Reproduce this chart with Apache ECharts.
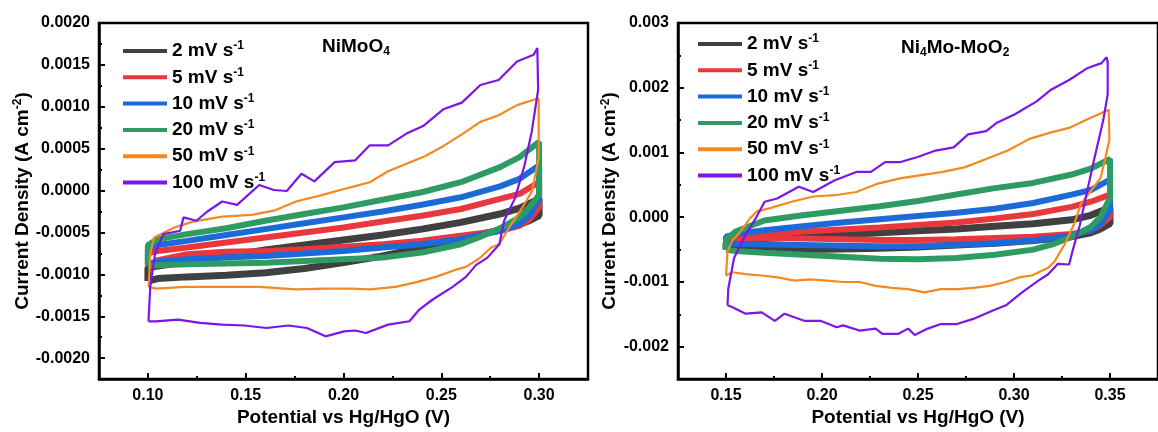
<!DOCTYPE html>
<html><head><meta charset="utf-8">
<script src="https://cdn.jsdelivr.net/npm/echarts@6/dist/echarts.min.js"></script>
<style>html,body{margin:0;padding:0;background:#fff}#c{width:1158px;height:432px}</style>
</head><body><div id="c"></div>
<script>
// ---------- labels & ticks ----------
const rateNames = ['2 mV s-1', '5 mV s-1', '10 mV s-1', '20 mV s-1', '50 mV s-1', '100 mV s-1'];
const leftTitle = ['NiMoO', '4'];
const rightTitle = ['Ni', '4', 'Mo-MoO', '2'];
const xTitle = 'Potential vs Hg/HgO (V)';
const yTitle = ['Current Density (A cm', '-2', ')'];
const leftXTicks = [0.10, 0.15, 0.20, 0.25, 0.30];
const leftXMinor = [0.125, 0.175, 0.225, 0.275];
const leftYTicks = [-0.0020, -0.0015, -0.0010, -0.0005, 0, 0.0005, 0.0010, 0.0015, 0.0020];
const leftYMinor = [-0.00175, -0.00125, -0.00075, -0.00025, 0.00025, 0.00075, 0.00125, 0.00175];
const rightXTicks = [0.15, 0.20, 0.25, 0.30, 0.35];
const rightXMinor = [0.175, 0.225, 0.275, 0.325];
const rightYTicks = [-0.002, -0.001, 0, 0.001, 0.002, 0.003];
const rightYMinor = [-0.0015, -0.0005, 0.0005, 0.0015, 0.0025];

// ---------- NiMoO4 loops [potential V, current A cm-2] ----------
const L2 = [[0.1,-0.00108],[0.1,-0.00092],[0.105,-0.0009],[0.12,-0.00085],[0.14,-0.00078],[0.16,-0.00071],[0.18,-0.00065],[0.2,-0.00059],[0.22,-0.00053],[0.24,-0.00046],[0.26,-0.00038],[0.28,-0.00028],[0.29,-0.00021],[0.3,-0.0001],
  [0.3,-0.0003],[0.295,-0.00036],[0.29,-0.0004],[0.28,-0.00047],[0.26,-0.00058],[0.24,-0.00068],[0.22,-0.00078],[0.2,-0.00086],[0.18,-0.00093],[0.16,-0.00098],[0.14,-0.00101],[0.12,-0.00103],[0.105,-0.00105],[0.1,-0.00108]];
const L5 = [[0.1,-0.0009],[0.1,-0.00075],[0.105,-0.00072],[0.12,-0.00068],[0.14,-0.00062],[0.16,-0.00056],[0.18,-0.0005],[0.2,-0.00044],[0.22,-0.00037],[0.24,-0.0003],[0.26,-0.00022],[0.28,-0.0001],[0.29,-0.00004],[0.3,0.0001],
  [0.3,-0.0002],[0.295,-0.00035],[0.29,-0.00042],[0.28,-0.00048],[0.26,-0.00054],[0.24,-0.0006],[0.22,-0.00064],[0.2,-0.00067],[0.18,-0.0007],[0.16,-0.00072],[0.14,-0.00073],[0.12,-0.00076],[0.105,-0.00083],[0.1,-0.0009]];
const L10 = [[0.1,-0.00088],[0.1,-0.0007],[0.105,-0.00065],[0.12,-0.0006],[0.14,-0.00053],[0.16,-0.00046],[0.18,-0.00039],[0.2,-0.00032],[0.22,-0.00025],[0.24,-0.00017],[0.26,-0.00008],[0.28,0.00005],[0.29,0.00014],[0.3,0.0003],
  [0.3,-0.0001],[0.295,-0.0003],[0.29,-0.0004],[0.28,-0.00048],[0.26,-0.00058],[0.24,-0.00064],[0.22,-0.00068],[0.2,-0.00072],[0.18,-0.00075],[0.16,-0.00078],[0.14,-0.0008],[0.12,-0.00082],[0.105,-0.00085],[0.1,-0.00088]];
const L20 = [[0.1,-0.0009],[0.1,-0.00065],[0.105,-0.00058],[0.12,-0.00052],[0.14,-0.00045],[0.16,-0.00036],[0.18,-0.00028],[0.2,-0.0002],[0.22,-0.00011],[0.24,-0.00002],[0.26,0.0001],[0.28,0.00028],[0.29,0.0004],[0.3,0.00058],
  [0.3,-0.00005],[0.295,-0.0002],[0.29,-0.00032],[0.28,-0.00045],[0.27,-0.00055],[0.26,-0.00064],[0.24,-0.00074],[0.22,-0.0008],[0.2,-0.00082],[0.18,-0.00084],[0.16,-0.00086],[0.14,-0.00087],[0.12,-0.00088],[0.105,-0.00089],[0.1,-0.0009]];
const L50 = [[0.1004,-0.00115],[0.1012,-0.00075],[0.1032,-0.00056],[0.1135,-0.00044],[0.123,-0.00037],[0.138,-0.00031],[0.1531,-0.00029],[0.1644,-0.00024],[0.1757,-0.00013],[0.1889,-0.000055],[0.2021,0.00003],[0.2134,0.0001],[0.2228,0.00023],[0.2322,0.00032],[0.2416,0.00041],[0.251,0.00053],[0.2605,0.00067],[0.27,0.00082],[0.2793,0.0009],[0.2887,0.00102],[0.2981,0.00109],[0.2998,0.0011],
  [0.2998,0.0004],[0.2965,0.0],[0.2923,-0.00017],[0.2881,-0.00032],[0.2847,-0.00044],[0.2796,-0.00064],[0.2755,-0.00068],[0.2694,-0.00081],[0.2626,-0.00091],[0.2567,-0.00095],[0.2472,-0.00103],[0.2378,-0.00109],[0.2266,-0.00115],[0.2134,-0.00118],[0.204,-0.00117],[0.1908,-0.00117],[0.1757,-0.00118],[0.1569,-0.00115],[0.138,-0.00115],[0.1192,-0.00115],[0.1041,-0.00117],[0.1004,-0.00115]];
const L100 = [[0.1003,-0.00156],[0.1012,-0.00115],[0.1037,-0.00075],[0.1079,-0.00052],[0.1165,-0.00048],[0.1182,-0.00032],[0.1248,-0.00036],[0.1304,-0.00025],[0.138,-0.00013],[0.1456,-0.00017],[0.1569,0.000066],[0.1644,0.000007],[0.171,-0.000005],[0.1785,0.0002],[0.1851,0.00011],[0.1955,0.00034],[0.2059,0.00036],[0.2134,0.00054],[0.2228,0.00054],[0.2322,0.00068],[0.2407,0.00077],[0.251,0.00097],[0.2605,0.00105],[0.27,0.00126],[0.2793,0.00132],[0.2887,0.00154],[0.2972,0.00162],[0.2991,0.0017],
  [0.2995,0.0012],[0.2962,0.0007],[0.2925,0.0003],[0.2877,-0.00009],[0.2821,-0.00036],[0.2797,-0.00064],[0.2736,-0.0008],[0.2677,-0.00089],[0.2626,-0.00103],[0.2558,-0.00115],[0.2456,-0.0013],[0.2388,-0.00142],[0.2337,-0.00156],[0.2228,-0.0016],[0.2115,-0.0017],[0.2059,-0.00167],[0.2003,-0.00168],[0.1908,-0.00174],[0.1813,-0.00164],[0.1719,-0.00161],[0.1606,-0.00164],[0.1493,-0.00161],[0.138,-0.0016],[0.1267,-0.00158],[0.1154,-0.00154],[0.1041,-0.00156],[0.1003,-0.00156]];

// ---------- Ni4Mo-MoO2 loops ----------
const R2 = [[0.15,-0.0005],[0.15,-0.0004],[0.155,-0.00036],[0.17,-0.00033],[0.19,-0.0003],[0.21,-0.00027],[0.23,-0.00024],[0.25,-0.00021],[0.27,-0.00018],[0.29,-0.00014],[0.31,-0.0001],[0.33,-0.00004],[0.34,0.00003],[0.35,0.00015],
  [0.35,-0.0001],[0.345,-0.00018],[0.34,-0.00024],[0.33,-0.0003],[0.31,-0.00036],[0.29,-0.0004],[0.27,-0.00043],[0.25,-0.00046],[0.23,-0.00048],[0.21,-0.00049],[0.19,-0.0005],[0.17,-0.0005],[0.155,-0.0005],[0.15,-0.0005]];
const R5 = [[0.15,-0.00033],[0.155,-0.0003],[0.17,-0.00026],[0.19,-0.00022],[0.21,-0.00019],[0.23,-0.00016],[0.25,-0.00012],[0.27,-0.00008],[0.29,-0.00002],[0.31,0.00005],[0.33,0.00016],[0.34,0.00024],[0.35,0.00035],
  [0.35,0.0],[0.345,-0.00012],[0.34,-0.0002],[0.33,-0.00026],[0.31,-0.0003],[0.29,-0.00032],[0.27,-0.00034],[0.25,-0.00035],[0.23,-0.00035],[0.21,-0.00034],[0.19,-0.00033],[0.17,-0.00032],[0.155,-0.00032],[0.15,-0.00033]];
const R10 = [[0.15,-0.0004],[0.15,-0.0003],[0.155,-0.00026],[0.17,-0.0002],[0.19,-0.00014],[0.21,-0.00008],[0.23,-0.00003],[0.25,0.00002],[0.27,0.00007],[0.29,0.00013],[0.31,0.00022],[0.33,0.00035],[0.34,0.00042],[0.35,0.00058],
  [0.35,0.0001],[0.345,-0.0001],[0.34,-0.0002],[0.33,-0.00028],[0.31,-0.00036],[0.29,-0.0004],[0.27,-0.00043],[0.25,-0.00045],[0.23,-0.00045],[0.21,-0.00044],[0.19,-0.00043],[0.17,-0.00042],[0.155,-0.00041],[0.15,-0.0004]];
const R20 = [[0.15,-0.0005],[0.15,-0.00035],[0.155,-0.00022],[0.17,-0.00005],[0.19,0.00003],[0.21,0.0001],[0.23,0.00017],[0.25,0.00025],[0.27,0.00035],[0.29,0.00045],[0.31,0.00053],[0.33,0.00066],[0.34,0.00075],[0.35,0.0009],
  [0.35,0.0003],[0.345,0.0],[0.34,-0.00015],[0.33,-0.0003],[0.32,-0.00042],[0.31,-0.0005],[0.29,-0.00058],[0.27,-0.00063],[0.25,-0.00065],[0.23,-0.00064],[0.21,-0.00061],[0.19,-0.00058],[0.17,-0.00055],[0.155,-0.00052],[0.15,-0.0005]];
const R50 = [[0.15,-0.0009],[0.1508,-0.00053],[0.1534,-0.00035],[0.1568,-0.00025],[0.1627,-0.00001],[0.1661,0.00009],[0.1729,0.00014],[0.1842,0.00024],[0.1955,0.00032],[0.2067,0.00034],[0.2179,0.00039],[0.2292,0.00052],[0.2405,0.0006],[0.2517,0.00065],[0.2629,0.0007],[0.2742,0.00077],[0.2855,0.0009],[0.2968,0.00103],[0.308,0.00121],[0.3193,0.00131],[0.3287,0.00138],[0.338,0.00151],[0.3456,0.00161],[0.3493,0.00166],
  [0.3497,0.0012],[0.3475,0.0009],[0.345,0.0006],[0.3348,0.0002],[0.3314,-0.0001],[0.3263,-0.00042],[0.3212,-0.00068],[0.3178,-0.00078],[0.3093,-0.0009],[0.3026,-0.00093],[0.2958,-0.001],[0.2873,-0.00106],[0.2788,-0.00109],[0.2703,-0.00111],[0.2619,-0.00111],[0.2534,-0.00116],[0.2449,-0.00111],[0.2364,-0.00109],[0.228,-0.00106],[0.2195,-0.001],[0.211,-0.001],[0.2025,-0.00098],[0.1941,-0.00096],[0.1856,-0.00098],[0.1771,-0.00093],[0.1686,-0.0009],[0.1602,-0.00088],[0.1534,-0.00085],[0.15,-0.0009]];
const R100 = [[0.1508,-0.00136],[0.1512,-0.0011],[0.1542,-0.00063],[0.1602,-0.00027],[0.166,0.00001],[0.1701,0.00024],[0.1766,0.00029],[0.1879,0.00047],[0.1954,0.00039],[0.2067,0.00057],[0.2179,0.0007],[0.2255,0.0007],[0.2329,0.00085],[0.2405,0.00085],[0.2498,0.00093],[0.2592,0.00103],[0.2686,0.00108],[0.2761,0.00128],[0.2855,0.00133],[0.2911,0.00146],[0.3005,0.00159],[0.3118,0.00179],[0.3193,0.00197],[0.3287,0.00212],[0.338,0.0023],[0.3456,0.00238],[0.3482,0.00247],[0.3488,0.0024],
  [0.3488,0.0019],[0.3465,0.0015],[0.3418,0.0009],[0.338,0.00039],[0.3343,-0.00012],[0.3305,-0.00052],[0.3287,-0.00073],[0.3229,-0.00072],[0.3178,-0.00088],[0.3127,-0.00098],[0.3042,-0.00116],[0.2958,-0.00136],[0.289,-0.00144],[0.2788,-0.00157],[0.2703,-0.00165],[0.2619,-0.00165],[0.2551,-0.00172],[0.2483,-0.00182],[0.2449,-0.00172],[0.2398,-0.0018],[0.2314,-0.0018],[0.228,-0.00172],[0.2195,-0.00175],[0.211,-0.00167],[0.2076,-0.0017],[0.1992,-0.0016],[0.1907,-0.0016],[0.1805,-0.00149],[0.1754,-0.0016],[0.1686,-0.00147],[0.1602,-0.00149],[0.1534,-0.00139],[0.1508,-0.00136]];

const leftLoops = [L2, L5, L10, L20, L50, L100];
const rightLoops = [R2, R5, R10, R20, R50, R100];

// ---------- styling ----------
const colors = ['#404040', '#e8383d', '#1c6ad8', '#2e9c62', '#f5891f', '#7a16e8'];
const widths = [7, 6, 6, 6, 2.2, 2.2];
const FONT = '"Liberation Sans", Arial, sans-serif';
const rich = {
  n: { fontSize: 19, fontWeight: 'bold', fontFamily: FONT, color: '#000', lineHeight: 22 },
  sup: { fontSize: 12, fontWeight: 'bold', fontFamily: FONT, color: '#000', lineHeight: 12, verticalAlign: 'top' },
  sub: { fontSize: 12, fontWeight: 'bold', fontFamily: FONT, color: '#000', lineHeight: 12, verticalAlign: 'bottom' }
};

function mainX(g, min, max, ticks, digits) {
  return { type: 'value', gridIndex: g, min, max, position: 'bottom',
    axisLine: { show: true, onZero: false, lineStyle: { color: '#000', width: 2.5 } },
    axisTick: { show: true, inside: true, length: 6, customValues: ticks, lineStyle: { color: '#000', width: 2 } },
    axisLabel: { show: true, customValues: ticks, formatter: v => v.toFixed(digits), color: '#000', fontSize: 16, fontWeight: 'bold', fontFamily: FONT, margin: 8 },
    splitLine: { show: false },
    name: xTitle, nameLocation: 'middle', nameGap: 27,
    nameTextStyle: { fontSize: 19, fontWeight: 'bold', fontFamily: FONT, color: '#000' } };
}
function minorX(g, min, max, ticks) {
  return { type: 'value', gridIndex: g, min, max, position: 'bottom',
    axisLine: { show: false, onZero: false },
    axisTick: { show: true, inside: true, length: 3, customValues: ticks, lineStyle: { color: '#000', width: 2 } },
    axisLabel: { show: false }, splitLine: { show: false } };
}
function mainY(g, min, max, ticks, digits, gap) {
  return { type: 'value', gridIndex: g, min, max, position: 'left',
    axisLine: { show: true, onZero: false, lineStyle: { color: '#000', width: 2.5 } },
    axisTick: { show: true, inside: true, length: 6, customValues: ticks, lineStyle: { color: '#000', width: 2 } },
    axisLabel: { show: true, customValues: ticks, formatter: v => v.toFixed(digits), color: '#000', fontSize: 16, fontWeight: 'bold', fontFamily: FONT, margin: 9 },
    splitLine: { show: false },
    name: '{n|' + yTitle[0] + '}{sup|' + yTitle[1] + '}{n|' + yTitle[2] + '}',
    nameLocation: 'middle', nameRotate: 90, nameGap: gap,
    nameTextStyle: { rich } };
}
function minorY(g, min, max, ticks) {
  return { type: 'value', gridIndex: g, min, max, position: 'left',
    axisLine: { show: false, onZero: false },
    axisTick: { show: true, inside: true, length: 3, customValues: ticks, lineStyle: { color: '#000', width: 2 } },
    axisLabel: { show: false }, splitLine: { show: false } };
}
function legendAt(left, top) {
  return { orient: 'vertical', left, top, icon: 'rect', itemWidth: 44, itemHeight: 4, itemGap: 5.8,
    selectedMode: false, data: rateNames,
    formatter: name => '{n|' + name.replace('s-1', 's') + '}{sup|-1}',
    textStyle: { rich } };
}

const series = [];
leftLoops.forEach((d, i) => series.push({ name: rateNames[i], type: 'line', xAxisIndex: 0, yAxisIndex: 0, data: d,
  symbol: 'none', lineStyle: { color: colors[i], width: widths[i] }, itemStyle: { color: colors[i] }, z: 2 + i }));
rightLoops.forEach((d, i) => series.push({ name: rateNames[i], type: 'line', xAxisIndex: 2, yAxisIndex: 2, data: d,
  symbol: 'none', lineStyle: { color: colors[i], width: widths[i] }, itemStyle: { color: colors[i] }, z: 2 + i }));

const chart = echarts.init(document.getElementById('c'), null, { renderer: 'canvas' });
chart.setOption({
  animation: false,
  backgroundColor: '#fff',
  textStyle: { fontFamily: FONT },
  grid: [
    { left: 99, top: 23, width: 489, height: 360, show: true, borderColor: '#000', borderWidth: 2.5, backgroundColor: 'transparent' },
    { left: 678, top: 23, width: 490, height: 360, show: true, borderColor: '#000', borderWidth: 2.5, backgroundColor: 'transparent' }
  ],
  title: [
    { text: '{n|' + leftTitle[0] + '}{sub|' + leftTitle[1] + '}', left: 322, top: 36, padding: 0, textStyle: { rich } },
    { text: '{n|' + rightTitle[0] + '}{sub|' + rightTitle[1] + '}{n|' + rightTitle[2] + '}{sub|' + rightTitle[3] + '}', left: 901, top: 37, padding: 0, textStyle: { rich } }
  ],
  legend: [legendAt(118, 35), legendAt(693, 28)],
  xAxis: [mainX(0, 0.075, 0.325, leftXTicks, 2), minorX(0, 0.075, 0.325, leftXMinor),
          mainX(1, 0.125, 0.375, rightXTicks, 2), minorX(1, 0.125, 0.375, rightXMinor)],
  yAxis: [mainY(0, -0.00225, 0.0020, leftYTicks, 4, 63), minorY(0, -0.00225, 0.0020, leftYMinor),
          mainY(1, -0.0025, 0.003, rightYTicks, 3, 52), minorY(1, -0.0025, 0.003, rightYMinor)],
  series
});
</script></body></html>
